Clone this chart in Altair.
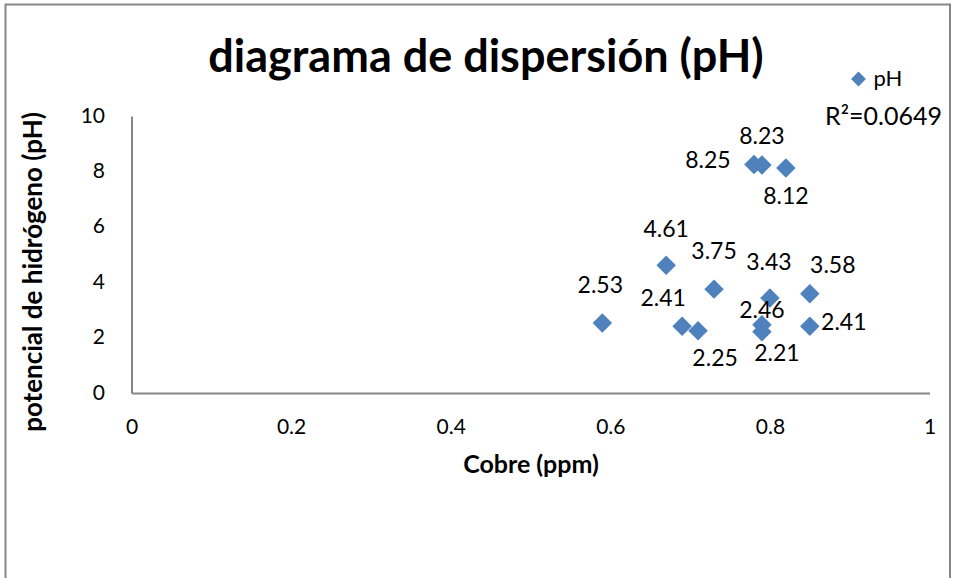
import altair as alt
import pandas as pd

# Copper concentration (ppm) and measured pH for each sample
cobre = [0.59, 0.67, 0.69, 0.71, 0.73, 0.78, 0.79, 0.82, 0.80, 0.85, 0.79, 0.79, 0.85]
ph = [2.53, 4.61, 2.41, 2.25, 3.75, 8.25, 8.23, 8.12, 3.43, 3.58, 2.46, 2.21, 2.41]

# Data-label offsets (pixels) relative to each marker
label_dx = [-2, 0, -19, 17, 0, -46, 0, 0, -1, 23, 0, 15, 34]
label_dy = [-37, -35, -27, 28, -37, -3, -28, 29, -35, -28, -14, 22, -3]

x_ticks = [0, 0.2, 0.4, 0.6, 0.8, 1]
y_ticks = [0, 2, 4, 6, 8, 10]

r2_text = "R²=0.0649"
title_text = "diagrama de dispersión (pH)"

FONT = "Lato"
BLUE = "#4F81BD"
GRAY = "#868686"

W, H = 798, 277
PAD_L, PAD_T = 131.5, 116

df = pd.DataFrame({"cobre": cobre, "ph": ph, "serie": ["pH"] * len(ph)})

x_enc = alt.X(
    "cobre:Q",
    scale=alt.Scale(domain=[0, 1], nice=False),
    axis=alt.Axis(
        values=x_ticks, format="~g", title="Cobre (ppm)", grid=False, ticks=False,
        domainColor=GRAY, domainWidth=2, labelFont=FONT, labelFontSize=21,
        labelColor="black", labelPadding=23, labelFlush=False,
        titleFont=FONT, titleFontSize=25, titleFontWeight="bold",
        titleColor="black", titlePadding=15,
    ),
)
y_enc = alt.Y(
    "ph:Q",
    scale=alt.Scale(domain=[0, 10], nice=False),
    axis=alt.Axis(
        values=y_ticks, title="potencial de hidrógeno (pH)", grid=False,
        ticks=False, domainColor=GRAY, domainWidth=2, labelFont=FONT,
        labelFontSize=21, labelColor="black", labelPadding=27,
        labelFlush=False, titleFont=FONT, titleFontSize=26,
        titleFontWeight="bold", titleColor="black", titlePadding=34,
        titleY=H / 2 + 17,
    ),
)

points = alt.Chart(df).mark_point(
    filled=True, opacity=1, size=380, shape="diamond"
).encode(
    x=x_enc,
    y=y_enc,
    color=alt.Color(
        "serie:N",
        scale=alt.Scale(domain=["pH"], range=[BLUE]),
        legend=alt.Legend(
            title=None, orient="none", legendX=716, legendY=-48,
            labelFont=FONT, labelFontSize=22, labelColor="black",
            symbolType="diamond", symbolSize=220, symbolOpacity=1,
            labelOffset=4,
        ),
    ),
)

# One text layer per sample so each label keeps its own offset
labels = []
for i in range(len(ph)):
    labels.append(
        alt.Chart(df.iloc[[i]]).mark_text(
            font=FONT, fontSize=23, color="black",
            dx=label_dx[i], dy=label_dy[i], baseline="middle", align="center",
        ).encode(x="cobre:Q", y="ph:Q", text=alt.Text("ph:Q", format=".2f"))
    )

one = pd.DataFrame({"k": [0]})

title = alt.Chart(one).mark_text(
    font=FONT, fontSize=45, fontWeight="bold", color="black",
    align="center", baseline="alphabetic",
).encode(x=alt.value(486 - PAD_L), y=alt.value(72 - PAD_T), text=alt.value(title_text))

r2 = alt.Chart(one).mark_text(
    font=FONT, fontSize=25, color="black", align="left", baseline="middle",
).encode(x=alt.value(825 - PAD_L), y=alt.value(117 - PAD_T), text=alt.value(r2_text))

border = alt.Chart(one).mark_rect(
    fill=None, stroke=GRAY, strokeWidth=2,
).encode(
    x=alt.value(5.5 - PAD_L), x2=alt.value(950 - PAD_L),
    y=alt.value(4.5 - PAD_T), y2=alt.value(700),
)

chart = alt.layer(border, points, *labels, title, r2).properties(
    width=W, height=H,
    autosize=alt.AutoSizeParams(type="none"),
    padding={"left": PAD_L, "top": PAD_T, "right": 955 - PAD_L - W, "bottom": 578 - PAD_T - H},
    background="white",
).configure_view(stroke=None)

chart.save("out.html", embed_options={"renderer": "svg", "actions": False})
